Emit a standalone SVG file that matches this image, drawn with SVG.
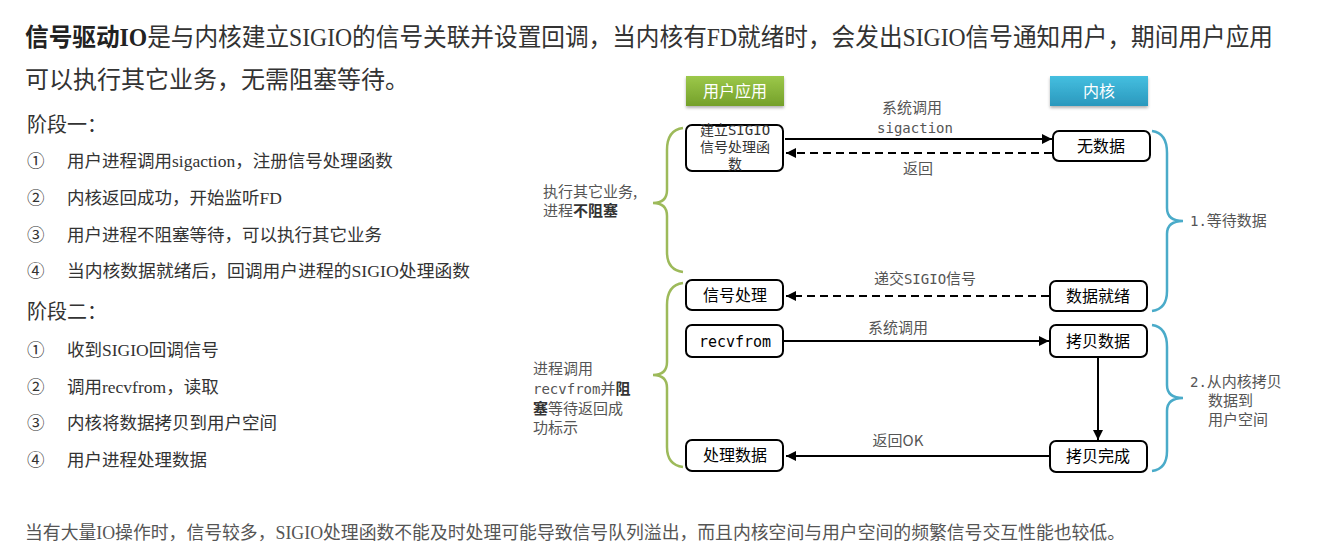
<svg xmlns="http://www.w3.org/2000/svg" width="1329" height="551" viewBox="0 0 1329 551">
<style>
.serif{font-family:"Liberation Serif","Noto Sans CJK SC",serif;fill:#333}
.sans{font-family:"Noto Sans CJK SC","Liberation Sans",sans-serif}
.lbl{font-family:"Noto Sans CJK SC","Liberation Sans",sans-serif;fill:#555;font-size:15px}
.mono,.lbl.mono{font-family:"DejaVu Sans Mono","Liberation Mono","Noto Sans CJK SC",monospace}
.node rect{fill:#fff;stroke:#000;stroke-width:2}
.node text{font-family:"Noto Sans CJK SC","Liberation Sans",sans-serif;font-size:16px;fill:#000;text-anchor:middle}
.ln{stroke:#000;stroke-width:2;fill:none}
.dash{stroke-dasharray:8 5}
.gb{fill:none;stroke:#9dba5a;stroke-width:2.5}
.bb{fill:none;stroke:#4aabc9;stroke-width:2.5}
.hdr text{font-family:"Noto Sans CJK SC","Liberation Sans",sans-serif;font-size:16px;fill:#fff;text-anchor:middle}
</style>
<defs>
<marker id="ah" viewBox="0 0 10 10" refX="10" refY="5" markerWidth="10" markerHeight="10" markerUnits="userSpaceOnUse" orient="auto"><path d="M0,0 L10,5 L0,10 z" fill="#000"/></marker>
<linearGradient id="gg" x1="0" y1="0" x2="0" y2="1"><stop offset="0" stop-color="#9cc84a"/><stop offset="1" stop-color="#74a02a"/></linearGradient>
<linearGradient id="bg" x1="0" y1="0" x2="0" y2="1"><stop offset="0" stop-color="#45bfe0"/><stop offset="1" stop-color="#2a98bd"/></linearGradient>
<filter id="sh" x="-10%" y="-10%" width="120%" height="140%"><feDropShadow dx="0" dy="2" stdDeviation="1.5" flood-color="#000" flood-opacity="0.3"/></filter>
</defs>
<rect width="1329" height="551" fill="#fff"/>

<text class="serif" x="25" y="46" font-size="25" textLength="1248" lengthAdjust="spacingAndGlyphs"><tspan font-weight="bold" fill="#222">信号驱动IO</tspan>是与内核建立SIGIO的信号关联并设置回调，当内核有FD就绪时，会发出SIGIO信号通知用户，期间用户应用</text>
<text class="serif" x="25" y="88" font-size="24">可以执行其它业务，无需阻塞等待。</text>

<text class="serif" x="27" y="132" font-size="20">阶段一：</text>
<g class="serif" font-size="17.5">
<text x="27" y="167">①</text><text x="67" y="167">用户进程调用sigaction，注册信号处理函数</text>
<text x="27" y="204">②</text><text x="67" y="204">内核返回成功，开始监听FD</text>
<text x="27" y="241">③</text><text x="67" y="241">用户进程不阻塞等待，可以执行其它业务</text>
<text x="27" y="277">④</text><text x="67" y="277" textLength="403" lengthAdjust="spacingAndGlyphs">当内核数据就绪后，回调用户进程的SIGIO处理函数</text>
</g>
<text class="serif" x="27" y="319" font-size="20">阶段二：</text>
<g class="serif" font-size="17.5">
<text x="27" y="356">①</text><text x="67" y="356">收到SIGIO回调信号</text>
<text x="27" y="393">②</text><text x="67" y="393">调用recvfrom，读取</text>
<text x="27" y="429">③</text><text x="67" y="429">内核将数据拷贝到用户空间</text>
<text x="27" y="466">④</text><text x="67" y="466">用户进程处理数据</text>
</g>
<text class="serif" x="25" y="539" font-size="18" style="fill:#555" textLength="1100" lengthAdjust="spacingAndGlyphs">当有大量IO操作时，信号较多，SIGIO处理函数不能及时处理可能导致信号队列溢出，而且内核空间与用户空间的频繁信号交互性能也较低。</text>

<g id="hdr-user" class="hdr"><rect x="686" y="76" width="98" height="30" fill="url(#gg)" filter="url(#sh)"/><text x="735" y="97">用户应用</text></g>
<g id="hdr-kernel" class="hdr"><rect x="1050" y="76" width="98" height="30" fill="url(#bg)" filter="url(#sh)"/><text x="1099" y="97">内核</text></g>

<g id="braces">
<path class="gb" d="M683,128 Q667,130 667,150 L667,190 Q667,203 653,203 Q667,203 667,216 L667,252 Q667,270 683,272"/>
<path class="gb" d="M683,283 Q667,285 667,305 L667,362 Q667,375 653,375 Q667,375 667,388 L667,447 Q667,465 683,467"/>
<path class="bb" d="M1152,131 Q1167,133 1167,153 L1167,208 Q1167,221 1183,221 Q1167,221 1167,234 L1167,291 Q1167,309 1152,311"/>
<path class="bb" d="M1152,325 Q1167,327 1167,347 L1167,385 Q1167,398 1183,398 Q1167,398 1167,411 L1167,451 Q1167,469 1152,471"/>
</g>

<g id="connectors">
<line class="ln" x1="785" y1="139" x2="1052" y2="139" marker-end="url(#ah)"/>
<line class="ln dash" x1="1052" y1="153" x2="786" y2="153" marker-end="url(#ah)"/>
<line class="ln dash" x1="1049" y1="296" x2="786" y2="296" marker-end="url(#ah)"/>
<line class="ln" x1="784" y1="341" x2="1049" y2="341" marker-end="url(#ah)"/>
<line class="ln" x1="1098" y1="357" x2="1098" y2="440" marker-end="url(#ah)"/>
<line class="ln" x1="1049" y1="456" x2="786" y2="456" marker-end="url(#ah)"/>
<text class="lbl" x="912" y="113" text-anchor="middle">系统调用</text>
<text class="lbl mono" x="915" y="133" text-anchor="middle" font-size="14" style="font-size:14px">sigaction</text>
<text class="lbl" x="918" y="174" text-anchor="middle">返回</text>
<text class="lbl" x="925" y="284" text-anchor="middle">递交<tspan class="mono" font-size="14">SIGIO</tspan>信号</text>
<text class="lbl" x="898" y="333" text-anchor="middle">系统调用</text>
<text class="lbl" x="898" y="446" text-anchor="middle">返回OK</text>
</g>

<g id="n-setup" class="node"><rect x="686" y="125" width="97" height="46" rx="6"/>
<text x="735" y="135" style="font-size:14px;fill:#333">建立<tspan class="mono">SIGIO</tspan></text>
<text x="735" y="152" style="font-size:14px;fill:#333">信号处理函</text>
<text x="735" y="169" style="font-size:14px;fill:#333">数</text></g>
<g id="n-nodata" class="node"><rect x="1053" y="131" width="97" height="30" rx="6"/><text x="1101" y="152">无数据</text></g>
<g id="n-sighandle" class="node"><rect x="686" y="280" width="97" height="30" rx="6"/><text x="735" y="301">信号处理</text></g>
<g id="n-ready" class="node"><rect x="1050" y="281" width="97" height="30" rx="6"/><text x="1098" y="302">数据就绪</text></g>
<g id="n-recv" class="node"><rect x="686" y="325" width="97" height="32" rx="6"/><text x="735" y="347" style="font-family:'DejaVu Sans Mono','Liberation Mono',monospace;font-size:15px">recvfrom</text></g>
<g id="n-copy" class="node"><rect x="1050" y="325" width="97" height="32" rx="6"/><text x="1098" y="347">拷贝数据</text></g>
<g id="n-proc" class="node"><rect x="686" y="440" width="97" height="31" rx="6"/><text x="735" y="461">处理数据</text></g>
<g id="n-done" class="node"><rect x="1050" y="441" width="97" height="31" rx="6"/><text x="1098" y="462">拷贝完成</text></g>

<g id="side-labels">
<text class="lbl" x="543" y="197">执行其它业务,</text>
<text class="lbl" x="543" y="216">进程<tspan font-weight="bold" fill="#333">不阻塞</tspan></text>
<text class="lbl" x="533" y="374">进程调用</text>
<text class="lbl" x="533" y="394"><tspan class="mono" font-size="14">recvfrom</tspan>并<tspan font-weight="bold" fill="#333">阻</tspan></text>
<text class="lbl" x="533" y="414"><tspan font-weight="bold" fill="#333">塞</tspan>等待返回成</text>
<text class="lbl" x="533" y="433">功标示</text>
<text class="lbl" x="1190" y="226"><tspan class="mono" font-size="14">1.</tspan>等待数据</text>
<text class="lbl" x="1190" y="387"><tspan class="mono" font-size="14">2.</tspan>从内核拷贝</text>
<text class="lbl" x="1208" y="406">数据到</text>
<text class="lbl" x="1208" y="425">用户空间</text>
</g>
</svg>
